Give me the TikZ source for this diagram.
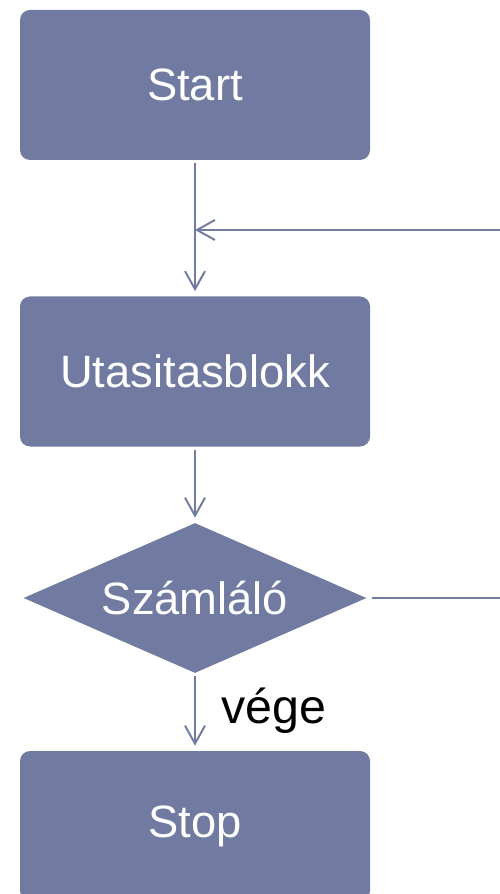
\documentclass[tikz,border=0pt]{standalone}
\usepackage{fontspec}
\setmainfont{Liberation Sans}
\usetikzlibrary{arrows.meta,shapes.geometric}
\definecolor{boxblue}{RGB}{113,122,160}

\begin{document}
\begin{tikzpicture}[
  blokk/.style={draw=none, fill=boxblue, rounded corners=0.2cm, minimum width=7cm, minimum height=3cm, text=white, font=\fontsize{25.8}{30}\selectfont},
  dont/.style={diamond, draw=none, fill=boxblue, aspect=2.29, minimum width=6.86cm, minimum height=3cm, inner sep=0pt, text=white, font=\fontsize{25.8}{30}\selectfont},
  vonal/.style={draw=boxblue, line width=1.1pt},
  arr/.style={vonal, -{Straight Barb[length=0.36cm, width=0.4cm, line width=1.1pt]}},
]
\clip (0,0) rectangle (10,-17.88);

% Boxes
\node[blokk] (start) at (3.9, -1.7) {Start};
\node[blokk] (blokk) at (3.9, -7.43) {Utasitasblokk};
\node[dont] (szaml) at (3.9, -11.96) {Számláló};
\node[blokk] (stop) at (3.9, -16.52) {Stop};

% Loop ends leaving the picture
\coordinate (join) at (3.9, -4.6);
\coordinate (back) at (10, -4.6);
\coordinate (exit) at (10, -11.96);

% Connectors
\draw[arr, shorten <=0.06cm, shorten >=0.1cm] (start) -- (blokk);
\draw[arr] (back) -- (join);
\draw[arr, shorten <=0.06cm, shorten >=0.1cm] (blokk) -- (szaml);
\draw[arr, shorten <=0.06cm, shorten >=0.1cm] (szaml) -- node[right=0.4cm, yshift=0.03cm, font=\fontsize{27.5}{32}\selectfont] {vége} (stop);
\draw[vonal, shorten <=0.1cm] (szaml.east) -- (exit);

\end{tikzpicture}
\end{document}
